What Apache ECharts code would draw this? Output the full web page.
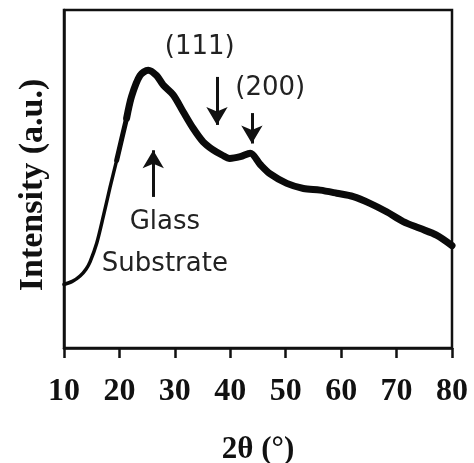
<!DOCTYPE html>
<html>
<head>
<meta charset="utf-8">
<script src="https://cdn.jsdelivr.net/npm/echarts@6/dist/echarts.min.js"></script>
<style>
html,body{margin:0;padding:0;background:#fff;}
#chart{width:474px;height:463px;}
</style>
</head>
<body>
<div id="chart"></div>
<script>
// Rising part of the pattern (thin, low-noise)
const riseTheta = [10, 11.5, 12.9, 14.0, 14.7, 15.9, 17.1, 18.3, 19.5, 20.4, 21.3, 22.2, 23.0];
const riseIntensity = [18.8, 19.7, 21.3, 23.4, 25.5, 31.0, 39.0, 47.5, 55.5, 61.8, 68.0, 74.0, 78.0];
// Transition part (medium thickness)
const midTheta = [19.5, 20.4, 21.3, 22.2];
const midIntensity = [55.5, 61.8, 68.0, 74.2];
// Noisy part of the pattern (thick trace)
const mainTheta = [21.3, 22.2, 23.7, 25.2, 26.7, 27.9, 29.7, 31.5, 33.3, 35.1, 36.9, 38.5, 39.9, 41.8, 43.6, 45.4, 47.2, 50.2, 53.2, 56.2, 59.2, 62.2, 65.2, 68.2, 71.2, 74.2, 77.2, 80];
const mainIntensity = [68.0, 74.5, 80.6, 82.2, 80.6, 77.8, 74.9, 69.9, 65.0, 61.0, 58.6, 57.1, 56.1, 56.6, 57.6, 54.3, 51.5, 48.7, 47.2, 46.7, 45.8, 44.8, 42.8, 40.3, 37.4, 35.4, 33.4, 30.3];
// x-axis ticks
const xTicks = [10, 20, 30, 40, 50, 60, 70, 80];
// Annotations
const labelTexts = ['(111)', '(200)', 'Glass', 'Substrate'];
const labelTheta = [34.5, 47.2, 28.2, 28.2];
const labelIntensity = [89, 76.9, 37.2, 24.8];
const arrowTheta = [37.6, 43.9, 26.1];
const arrowFrom = [80.2, 69.5, 44.7];
const arrowTo = [66.0, 60.5, 58.5];

const chart = echarts.init(document.getElementById('chart'));
const serif = '"Liberation Serif", "Times New Roman", serif';
const sans = '"DejaVu Sans", sans-serif';

const riseData = riseTheta.map((t, i) => [t, riseIntensity[i]]);
const midData = midTheta.map((t, i) => [t, midIntensity[i]]);
const mainData = mainTheta.map((t, i) => [t, mainIntensity[i]]);

chart.setOption({
  animation: false,
  backgroundColor: '#fff',
  grid: {left: 64, right: 22, top: 10, bottom: 115, show: true, borderColor: '#111', borderWidth: 2.5, containLabel: false, outerBoundsMode: 'none'},
  xAxis: {
    type: 'value', min: xTicks[0], max: xTicks[xTicks.length - 1], interval: 10,
    name: '2θ (°)', nameLocation: 'middle', nameGap: 86,
    nameTextStyle: {fontFamily: serif, fontWeight: 'bold', fontSize: 31, color: '#111'},
    axisLine: {show: true, lineStyle: {color: '#111', width: 2.5}},
    axisTick: {show: true, inside: false, length: 10, lineStyle: {color: '#111', width: 2.5}},
    axisLabel: {fontFamily: serif, fontWeight: 'bold', fontSize: 32, color: '#111', margin: 28},
    splitLine: {show: false}
  },
  yAxis: {
    type: 'value', min: 0, max: 100,
    name: 'Intensity (a.u.)', nameLocation: 'middle', nameGap: 14,
    nameTextStyle: {fontFamily: serif, fontWeight: 'bold', fontSize: 34, color: '#111', padding: [0, 0, 0, -12]},
    axisLine: {show: true, lineStyle: {color: '#111', width: 2.5}},
    axisTick: {show: false}, axisLabel: {show: false}, splitLine: {show: false}
  },
  series: [
    {
      type: 'line', data: riseData, showSymbol: false, smooth: 0.3,
      lineStyle: {color: '#0a0a0a', width: 3.5, cap: 'round'}, silent: true
    },
    {
      type: 'line', data: midData, showSymbol: false, smooth: 0.3,
      lineStyle: {color: '#0a0a0a', width: 5, cap: 'round'}, silent: true
    },
    {
      type: 'line', data: mainData, showSymbol: false, smooth: 0.3,
      lineStyle: {color: '#0a0a0a', width: 7, cap: 'round', join: 'round'}, silent: true,
      markPoint: {
        symbol: 'circle', symbolSize: 0, silent: true,
        label: {show: true, position: 'inside', formatter: '{b}', fontFamily: sans, fontSize: 26, color: '#222'},
        data: labelTexts.map((s, i) => ({name: s, coord: [labelTheta[i], labelIntensity[i]]}))
      },
      markLine: {
        silent: true, symbol: ['none', 'arrow'], symbolSize: [16, 18],
        label: {show: false},
        lineStyle: {color: '#111', width: 3, type: 'solid'},
        data: arrowTheta.map((t, i) => [{coord: [t, arrowFrom[i]]}, {coord: [t, arrowTo[i]]}])
      }
    }
  ]
});
</script>
</body>
</html>
